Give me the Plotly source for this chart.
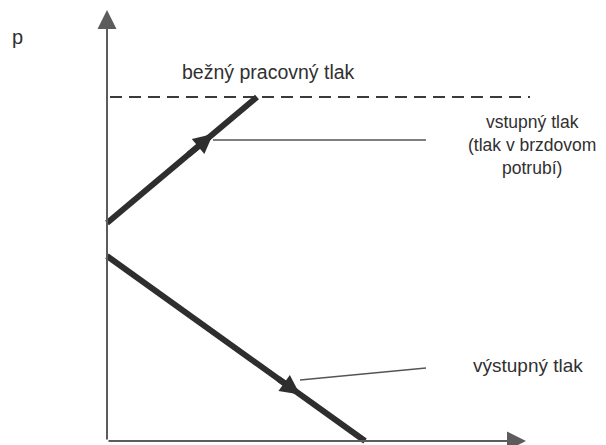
import plotly.graph_objects as go

# ---- data (time t, pressure p in arbitrary units; origin at axis crossing) ----
t_axis_end = 41.9
p_axis_end = 43.1
p_work = 34.4                      # bežný pracovný tlak
dash_t = [0.3, 42.3]
in_t = [0.0, 15.0]                 # vstupný tlak
in_p = [21.8, 34.4]
out_t = [0.0, 25.8]                # výstupný tlak
out_p = [18.5, 0.0]
in_arrow_t = [8.0, 10.6]
out_arrow_t = [17.0, 19.3]
ptr_in_t = [10.6, 31.9]
ptr_in_p = [30.1, 30.1]
ptr_out_t = [19.3, 31.9]
ptr_out_p = [6.1, 7.3]

# label text, position (t, p), font size
label_texts = ["p", "bežný pracovný tlak",
               "vstupný tlak<br>(tlak v brzdovom<br>potrubí)", "výstupný tlak"]
label_t = [-9.0, 16.15, 42.5, 42.1]
label_p = [40.4, 36.9, 29.6, 7.6]
label_size = [20, 19.5, 17.5, 19]

def interp(ts, ps, t):
    return ps[0] + (ps[1] - ps[0]) * (t - ts[0]) / (ts[1] - ts[0])

DARK = "#2e2e2e"
AX = "#5c5c5c"
TXT = "#303030"
FONT = "Liberation Sans, Arial, sans-serif"

fig = go.Figure()

# dashed working-pressure line
fig.add_trace(go.Scatter(x=dash_t, y=[p_work, p_work], mode="lines",
                         line=dict(color="#3a3a3a", width=2, dash="12px,7px"),
                         hoverinfo="skip"))
# thin pointer lines
fig.add_trace(go.Scatter(x=ptr_in_t, y=ptr_in_p, mode="lines",
                         line=dict(color="#555555", width=1.5), hoverinfo="skip"))
fig.add_trace(go.Scatter(x=ptr_out_t, y=ptr_out_p, mode="lines",
                         line=dict(color="#555555", width=1.5), hoverinfo="skip"))
# thick pressure lines
fig.add_trace(go.Scatter(x=in_t, y=in_p, mode="lines",
                         line=dict(color=DARK, width=6), hoverinfo="skip"))
fig.add_trace(go.Scatter(x=out_t, y=out_p, mode="lines",
                         line=dict(color=DARK, width=6), hoverinfo="skip"))

anns = []
# axes with arrows
anns.append(dict(x=0, y=p_axis_end, ax=0, ay=0, xref="x", yref="y", axref="x", ayref="y",
                 text="", showarrow=True, arrowhead=2, arrowsize=1.9, arrowwidth=2,
                 arrowcolor=AX, standoff=0))
anns.append(dict(x=t_axis_end, y=0, ax=0, ay=0, xref="x", yref="y", axref="x", ayref="y",
                 text="", showarrow=True, arrowhead=2, arrowsize=1.9, arrowwidth=2,
                 arrowcolor=AX, standoff=0))
# direction arrows on the thick lines
anns.append(dict(x=in_arrow_t[1], y=interp(in_t, in_p, in_arrow_t[1]),
                 ax=in_arrow_t[0], ay=interp(in_t, in_p, in_arrow_t[0]),
                 xref="x", yref="y", axref="x", ayref="y", text="", showarrow=True,
                 arrowhead=2, arrowsize=0.65, arrowwidth=6, arrowcolor=DARK, standoff=0))
anns.append(dict(x=out_arrow_t[1], y=interp(out_t, out_p, out_arrow_t[1]),
                 ax=out_arrow_t[0], ay=interp(out_t, out_p, out_arrow_t[0]),
                 xref="x", yref="y", axref="x", ayref="y", text="", showarrow=True,
                 arrowhead=2, arrowsize=0.65, arrowwidth=6, arrowcolor=DARK, standoff=0))
# text labels
for txt, tx, ty, fs in zip(label_texts, label_t, label_p, label_size):
    anns.append(dict(x=tx, y=ty, xref="x", yref="y", text=txt, showarrow=False,
                     xanchor="center", yanchor="middle", align="center",
                     font=dict(family=FONT, size=fs, color=TXT)))

# page body has an 8px margin: figure is 598x437, offset by 8px
fig.update_layout(
    width=598, height=437,
    margin=dict(l=0, r=0, t=0, b=0),
    paper_bgcolor="white", plot_bgcolor="white",
    showlegend=False,
    annotations=anns,
    xaxis=dict(range=[-9.9, 49.9], visible=False, fixedrange=True),
    yaxis=dict(range=[-0.4, 43.3], visible=False, fixedrange=True),
)

fig.write_html("out.html")
